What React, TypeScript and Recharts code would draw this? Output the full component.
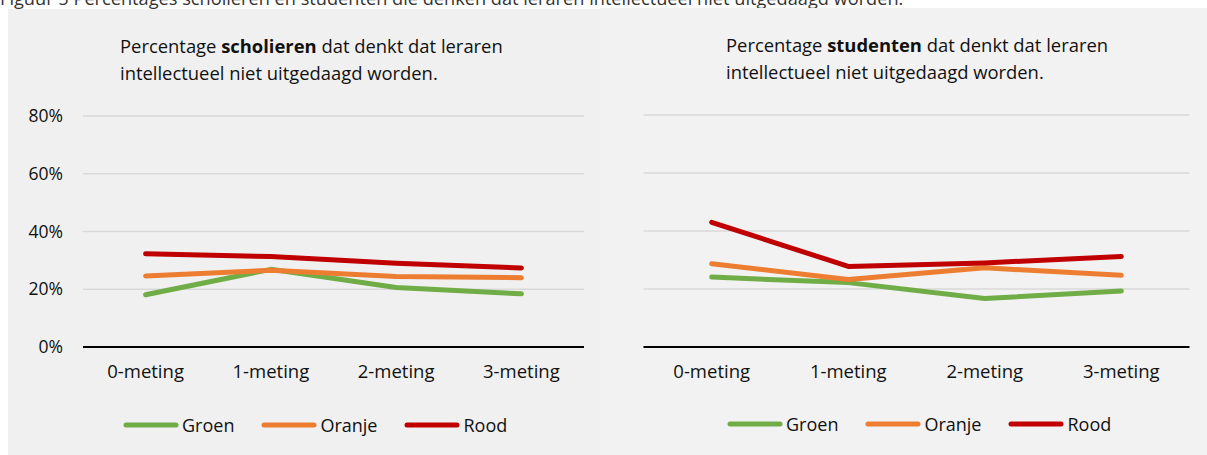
import React from "react";
import { LineChart, Line, XAxis, YAxis, CartesianGrid, Legend } from "recharts";

const categories = ["0-meting", "1-meting", "2-meting", "3-meting"];
const seriesNames = ["Groen", "Oranje", "Rood"];
const seriesColors = ["#70ad47", "#ed7d31", "#c00000"];

const scholierenGroen = [18.1, 26.9, 20.6, 18.4];
const scholierenOranje = [24.6, 26.6, 24.4, 24.0];
const scholierenRood = [32.3, 31.3, 29.0, 27.4];

const studentenGroen = [24.1, 22.2, 16.7, 19.3];
const studentenOranje = [28.7, 23.3, 27.3, 24.7];
const studentenRood = [43.0, 27.8, 29.0, 31.2];

const yTicks = [0, 20, 40, 60, 80];

const caption =
  "Figuur 5 Percentages scholieren en studenten die denken dat leraren intellectueel niet uitgedaagd worden.";

const FONT = "'Open Sans', 'Noto Sans', sans-serif";

function buildRows(g: number[], o: number[], r: number[]) {
  return categories.map((c, i) => ({ cat: c, Groen: g[i], Oranje: o[i], Rood: r[i] }));
}

const leftData = buildRows(scholierenGroen, scholierenOranje, scholierenRood);
const rightData = buildRows(studentenGroen, studentenOranje, studentenRood);

function LegendContent() {
  return (
    <div style={{ display: "flex", alignItems: "center", fontFamily: FONT, fontSize: 18, color: "#111", whiteSpace: "nowrap" }}>
      {seriesNames.map((n, i) => (
        <div key={n} style={{ display: "flex", alignItems: "center", marginRight: i < 2 ? 27 : 0 }}>
          <svg width={56} height={8} style={{ marginRight: 3 }}>
            <line x1={3} y1={4} x2={53} y2={4} stroke={seriesColors[i]} strokeWidth={5} strokeLinecap="round" />
          </svg>
          <span>{n}</span>
        </div>
      ))}
    </div>
  );
}

type PanelProps = {
  data: any[];
  width: number;
  height: number;
  marginLeft: number;
  marginRight: number;
  pad: number;
  showY: boolean;
  bg: string;
  left: number;
  top: number;
  boldWord: string;
  titleLeft: number;
  legendLeft: number;
};

function Panel(p: PanelProps) {
  return (
    <div style={{ position: "absolute", left: p.left, top: p.top, width: p.width, height: p.height, background: p.bg }}>
      <div
        style={{
          position: "absolute",
          left: p.titleLeft,
          top: 23,
          fontFamily: FONT,
          fontSize: 18.4,
          lineHeight: "27px",
          color: "#111",
          whiteSpace: "nowrap",
        }}
      >
        Percentage <b>{p.boldWord}</b> dat denkt dat leraren
        <br />
        intellectueel niet uitgedaagd worden.
      </div>
      <LineChart
        width={p.width}
        height={p.height}
        data={p.data}
        margin={{ top: 107, right: p.marginRight, bottom: 0, left: p.marginLeft }}
        style={{ fontFamily: FONT }}
      >
        <CartesianGrid vertical={false} stroke="#d9d9d9" strokeWidth={1.5} />
        <XAxis
          dataKey="cat"
          height={108}
          padding={{ left: p.pad, right: p.pad }}
          axisLine={{ stroke: "#000", strokeWidth: 2 }}
          tickLine={false}
          tickSize={0}
          tickMargin={18}
          tick={{ fill: "#111", fontSize: 18.5 }}
          interval={0}
        />
        <YAxis
          hide={!p.showY}
          width={p.showY ? 75 : 0}
          domain={[0, 80]}
          ticks={yTicks}
          axisLine={false}
          tickLine={false}
          tickSize={0}
          tickMargin={20}
          tickFormatter={(v: number) => `${v}%`}
          tick={{ fill: "#111", fontSize: 17.5 }}
        />
        <Legend
          verticalAlign="middle"
          layout="horizontal"
          content={() => <LegendContent />}
          wrapperStyle={{ position: "absolute", left: p.legendLeft, top: 404, width: "auto" }}
        />
        {seriesNames.map((n, i) => (
          <Line
            key={n}
            dataKey={n}
            name={n}
            stroke={seriesColors[i]}
            strokeWidth={5}
            dot={false}
            activeDot={false}
            isAnimationActive={false}
            strokeLinejoin="round"
            strokeLinecap="round"
          />
        ))}
      </LineChart>
    </div>
  );
}

export default function App() {
  return (
    <div
      style={{
        position: "absolute",
        left: 0,
        top: 0,
        width: 1207,
        height: 455,
        overflow: "hidden",
        background: "#fff",
      }}
    >
      <div
        style={{
          position: "absolute",
          left: 0,
          top: -14,
          fontFamily: FONT,
          fontSize: 18.2,
          color: "#333",
          whiteSpace: "nowrap",
        }}
      >
        {caption}
      </div>
      <Panel
        data={leftData}
        width={592}
        height={446}
        marginLeft={0}
        marginRight={16}
        pad={62.6}
        showY={true}
        bg="#f0f0f0"
        left={8}
        top={9}
        boldWord="scholieren"
        titleLeft={112}
        legendLeft={115}
      />
      <Panel
        data={rightData}
        width={607}
        height={447}
        marginLeft={43.5}
        marginRight={17.5}
        pad={68.2}
        showY={false}
        bg="#f2f2f2"
        left={600}
        top={8}
        boldWord="studenten"
        titleLeft={126}
        legendLeft={127}
      />
    </div>
  );
}
